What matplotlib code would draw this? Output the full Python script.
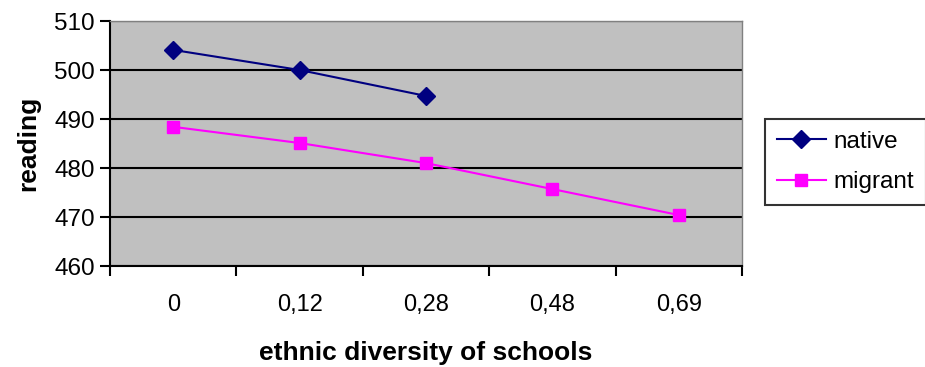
import matplotlib.pyplot as plt
from matplotlib import font_manager

# Data
categories = ['0', '0,12', '0,28', '0,48', '0,69']
native = [504.1, 500.0, 494.7]
migrant = [488.4, 485.1, 481.0, 475.7, 470.4]
y_ticks = [460, 470, 480, 490, 500, 510]

names = {f.name for f in font_manager.fontManager.ttflist}
narrow = 'Liberation Sans Narrow' if 'Liberation Sans Narrow' in names else 'Liberation Sans'
plt.rcParams['font.family'] = ['Liberation Sans', 'DejaVu Sans']

fig = plt.figure(figsize=(9.25, 3.67), dpi=100)
ax = fig.add_axes([110/925, 1 - 266/367, (742 - 110)/925, (266 - 21)/367])
ax.set_facecolor('#C0C0C0')

x_nat = list(range(len(native)))
x_mig = list(range(len(migrant)))
ax.plot(x_nat, native, color='#000080', lw=1.5, marker='D', ms=9,
        label='native', zorder=3)
ax.plot(x_mig, migrant, color='#FF00FF', lw=1.5, marker='s', ms=8,
        label='migrant', zorder=3)

ax.set_xlim(-0.5, len(categories) - 0.5)
ax.set_ylim(460, 510)
ax.set_yticks(y_ticks)
ax.set_yticklabels([str(v) for v in y_ticks], fontsize=17.5)
ax.yaxis.grid(True, color='black', lw=1.5)
ax.set_axisbelow(True)

# x ticks sit between categories, labels in the middle
ax.set_xticks([i - 0.5 for i in range(len(categories) + 1)])
ax.set_xticklabels([])
ax.set_xticks(range(len(categories)), minor=True)
ax.set_xticklabels(categories, minor=True, fontsize=17, family=narrow)
ax.tick_params(axis='x', which='minor', length=0, pad=20)
ax.tick_params(axis='x', which='major', length=7, width=1.5, direction='out')
ax.tick_params(axis='y', length=7, width=1.5, direction='out', pad=4)

for s in ['left', 'bottom']:
    ax.spines[s].set_color('black')
    ax.spines[s].set_linewidth(1.5)
for s in ['top', 'right']:
    ax.spines[s].set_color('#808080')
    ax.spines[s].set_linewidth(1)

ax.set_xlabel('ethnic diversity of schools', fontsize=19, fontweight='bold',
              family=narrow, labelpad=18)
ax.set_ylabel('reading', fontsize=19, fontweight='bold', labelpad=10)

leg = fig.legend(loc='center left', bbox_to_anchor=(765/925, 1 - 162/367),
                 fontsize=17.5, frameon=True, fancybox=False, edgecolor='black',
                 handlelength=2.0, borderpad=0.5, labelspacing=0.75,
                 handletextpad=0.3, borderaxespad=0)
leg.get_frame().set_linewidth(1.5)

fig.savefig('out.png', dpi=100)
